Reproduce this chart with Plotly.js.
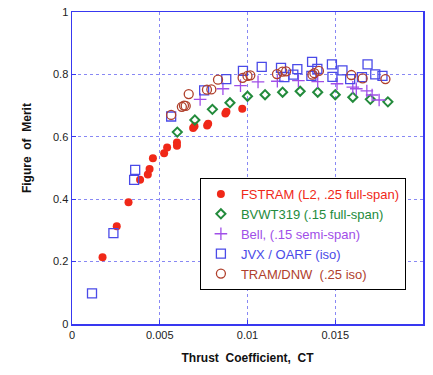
<!DOCTYPE html>
<html>
<head>
<meta charset="utf-8">
<script src="https://cdn.plot.ly/plotly-3.0.1.min.js"></script>
<style>
  html, body { margin: 0; padding: 0; background: #fff; }
  #chart { width: 433px; height: 375px; }
</style>
</head>
<body>
<div id="chart"></div>
<script>
// Rotor hover performance: figure of merit vs. thrust coefficient

// FSTRAM (L2, .25 full-span)
const fstramCT = [0.00174, 0.00255, 0.00322, 0.00388, 0.00432, 0.00442, 0.00461, 0.00525, 0.00542, 0.00598, 0.00598, 0.00690, 0.00698, 0.00770, 0.00776, 0.00874, 0.00880, 0.00970];
const fstramFM = [0.214, 0.313, 0.390, 0.462, 0.479, 0.497, 0.531, 0.547, 0.566, 0.571, 0.582, 0.628, 0.634, 0.636, 0.642, 0.675, 0.680, 0.690];

// BVWT319 (.15 full-span)
const bvwtCT = [0.006, 0.007, 0.008, 0.009, 0.010, 0.011, 0.012, 0.013, 0.014, 0.015, 0.016, 0.017, 0.018];
const bvwtFM = [0.615, 0.654, 0.688, 0.709, 0.730, 0.735, 0.743, 0.746, 0.743, 0.735, 0.727, 0.720, 0.712];

// Bell (.15 semi-span)
const bellCT = [0.0073, 0.0086, 0.0096, 0.0106, 0.0117, 0.0129, 0.0140, 0.0151, 0.0160, 0.0162, 0.0168, 0.0171, 0.0175];
const bellFM = [0.720, 0.754, 0.764, 0.776, 0.778, 0.780, 0.777, 0.770, 0.759, 0.754, 0.747, 0.734, 0.718];

// JVX / OARF (iso)
const jvxCT = [0.00114, 0.00236, 0.00354, 0.00360, 0.00565, 0.00753, 0.00879, 0.00974, 0.01081, 0.01191, 0.01210, 0.01261, 0.01284, 0.01364, 0.01368, 0.01398, 0.01481, 0.01484, 0.01541, 0.01585, 0.01652, 0.01684, 0.01728, 0.01769];
const jvxFM = [0.098, 0.291, 0.462, 0.494, 0.665, 0.749, 0.785, 0.811, 0.824, 0.821, 0.791, 0.799, 0.817, 0.795, 0.840, 0.818, 0.832, 0.792, 0.813, 0.785, 0.791, 0.832, 0.800, 0.795];

// TRAM/DNW (.25 iso)
const tramCT = [0.00565, 0.00626, 0.00638, 0.00648, 0.00665, 0.00769, 0.00794, 0.00832, 0.00972, 0.01000, 0.01016, 0.01168, 0.01199, 0.01220, 0.01370, 0.01381, 0.01407, 0.01592, 0.01656, 0.01786];
const tramFM = [0.670, 0.696, 0.700, 0.699, 0.737, 0.751, 0.752, 0.783, 0.789, 0.795, 0.797, 0.801, 0.809, 0.810, 0.799, 0.804, 0.811, 0.798, 0.787, 0.785];

const xTicks = [0, 0.005, 0.01, 0.015, 0.02];
const xTickText = ['0', '0.005', '0.01', '0.015', '0.02'];
const yTicks = [0, 0.2, 0.4, 0.6, 0.8, 1];
const yTickText = ['0', '0.2', '0.4', '0.6', '0.8', '1'];

const colRed = '#f02818';
const colGreen = '#238b3c';
const colPurple = '#a04ee8';
const colBlue = '#4a4ae8';
const colBrown = '#b0402c';

function label(text, color) {
  return '<span style="color:' + color + '">' + text + '</span>';
}

const traces = [
  {
    x: fstramCT, y: fstramFM, type: 'scatter', mode: 'markers',
    name: label('FSTRAM (L2, .25 full-span)', colRed), legendgroup: 'a',
    marker: { symbol: 'circle', size: 8, color: colRed }
  },
  {
    x: bvwtCT, y: bvwtFM, type: 'scatter', mode: 'markers',
    name: label('BVWT319 (.15 full-span)', colGreen), legendgroup: 'b',
    marker: { symbol: 'diamond-open', size: 7, color: colGreen, line: { width: 2, color: colGreen } }
  },
  {
    x: bellCT, y: bellFM, type: 'scatter', mode: 'markers',
    name: label('Bell, (.15 semi-span)', colPurple), legendgroup: 'c',
    marker: { symbol: 'cross-thin-open', size: 9, color: colPurple, line: { width: 1.3, color: colPurple } }
  },
  {
    x: jvxCT, y: jvxFM, type: 'scatter', mode: 'markers',
    name: label('JVX / OARF (iso)', colBlue), legendgroup: 'd',
    marker: { symbol: 'square-open', size: 9, color: colBlue, line: { width: 1.3, color: colBlue } }
  },
  {
    x: tramCT, y: tramFM, type: 'scatter', mode: 'markers',
    name: label('TRAM/DNW&nbsp; (.25 iso)', colBrown), legendgroup: 'e',
    marker: { symbol: 'circle-open', size: 9, color: colBrown, line: { width: 1.3, color: colBrown } }
  }
];

const frame = '#3838f0';
const grid = '#8888f4';

const layout = {
  width: 433, height: 375,
  margin: { l: 72.3, r: 10.3, t: 12, b: 51 },
  paper_bgcolor: '#ffffff',
  plot_bgcolor: '#ffffff',
  font: { family: 'Liberation Sans, Arial, sans-serif', size: 11, color: '#222' },
  showlegend: true,
  legend: {
    x: 0.3644, y: 0.468, xanchor: 'left', yanchor: 'top',
    bgcolor: '#ffffff', bordercolor: '#000000', borderwidth: 1,
    font: { size: 13, family: 'Liberation Sans, Arial, sans-serif' },
    tracegroupgap: 0, itemsizing: 'trace'
  },
  xaxis: {
    range: [0, 0.02], tickvals: xTicks, ticktext: xTickText,
    showline: true, mirror: true, linecolor: frame, linewidth: 1.5,
    showgrid: true, gridcolor: grid, griddash: 'dot', gridwidth: 1.3,
    zeroline: false, ticks: 'inside', ticklen: 4, tickcolor: frame,
    tickfont: { size: 11, color: '#222' },
    title: { text: '<b>Thrust  Coefficient,  CT</b>', font: { size: 12, color: '#111' }, standoff: 14 }
  },
  yaxis: {
    range: [0, 1], tickvals: yTicks, ticktext: yTickText,
    showline: true, mirror: true, linecolor: frame, linewidth: 1.5,
    showgrid: true, gridcolor: grid, griddash: 'dot', gridwidth: 1.3,
    zeroline: false, ticks: 'inside', ticklen: 4, tickcolor: frame,
    tickfont: { size: 11, color: '#222' }
  },
  annotations: [
    {
      text: '<b>Figure  of  Merit</b>', xref: 'paper', yref: 'paper',
      x: -0.13, y: 0.565, xanchor: 'center', yanchor: 'middle',
      textangle: -90, showarrow: false, font: { size: 12, color: '#111' }
    }
  ],
  shapes: [
    {
      // drop shadow behind the legend box
      type: 'rect', xref: 'paper', yref: 'paper', layer: 'above',
      x0: (204 - 72.3) / 350.4, x1: (395 - 72.3) / 350.4,
      y0: (324 - 290) / 312, y1: (324 - 182) / 312,
      fillcolor: '#000000', line: { width: 0 }
    }
  ]
};

Plotly.newPlot('chart', traces, layout, { staticPlot: true, displayModeBar: false });
</script>
</body>
</html>
